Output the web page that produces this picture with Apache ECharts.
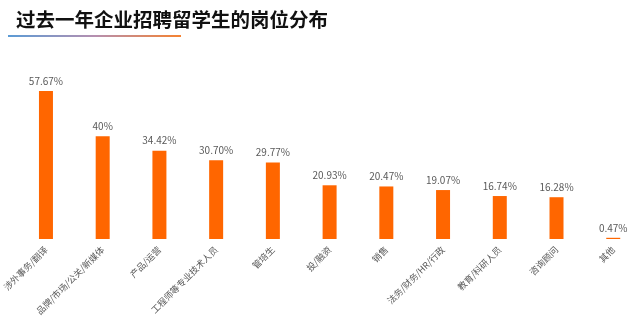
<!DOCTYPE html>
<html>
<head>
<meta charset="utf-8">
<script src="https://cdn.jsdelivr.net/npm/echarts@6/dist/echarts.min.js"></script>
<style>
  html, body { margin: 0; padding: 0; background: #fff; }
  #chart { width: 634px; height: 322px; }
</style>
</head>
<body>
<div id="chart"></div>
<script>
// Job categories and share of companies hiring returnees for each (%)
const categories = [
  '涉外事务/翻译', '品牌/市场/公关/新媒体', '产品/运营', '工程师等专业技术人员',
  '管培生', '投/融资', '销售', '法务/财务/HR/行政', '教育/科研人员', '咨询顾问', '其他'
];
const shares = [57.67, 40, 34.42, 30.70, 29.77, 20.93, 20.47, 19.07, 16.74, 16.28, 0.47];
const shareLabels = ['57.67%', '40%', '34.42%', '30.70%', '29.77%', '20.93%', '20.47%', '19.07%', '16.74%', '16.28%', '0.47%'];

const chart = echarts.init(document.getElementById('chart'), null, { renderer: 'canvas' });
const FONT = '"Noto Sans CJK SC", "Noto Sans", sans-serif';

chart.setOption({
  backgroundColor: '#ffffff',
  animation: false,
  title: {
    text: '过去一年企业招聘留学生的岗位分布',
    left: 11,
    top: 5,
    textStyle: { fontFamily: FONT, fontSize: 19.5, fontWeight: 'bold', color: '#111111' }
  },
  graphic: [{
    type: 'rect',
    left: 8,
    top: 35,
    shape: { width: 173, height: 2 },
    style: {
      fill: new echarts.graphic.LinearGradient(0, 0, 1, 0, [
        { offset: 0, color: '#5b9bd5' },
        { offset: 0.5, color: '#b58fb0' },
        { offset: 1, color: '#f58231' }
      ])
    }
  }],
  grid: { left: 17.6, top: 85, width: 624, bottom: 83, containLabel: false, outerBoundsMode: 'none' },
  xAxis: {
    type: 'category',
    data: categories,
    axisLine: { show: false },
    axisTick: { show: false },
    axisLabel: {
      interval: 0,
      rotate: 45,
      margin: 9,
      fontFamily: FONT,
      fontSize: 9,
      color: '#595959'
    }
  },
  yAxis: {
    type: 'value',
    min: 0,
    max: 60,
    show: false,
    splitLine: { show: false }
  },
  series: [{
    type: 'bar',
    data: shares,
    barWidth: 14,
    itemStyle: { color: '#ff6600' },
    label: {
      show: true,
      position: 'top',
      distance: 5,
      fontFamily: FONT,
      fontSize: 10,
      color: '#595959',
      formatter: p => shareLabels[p.dataIndex]
    }
  }]
});
</script>
</body>
</html>
